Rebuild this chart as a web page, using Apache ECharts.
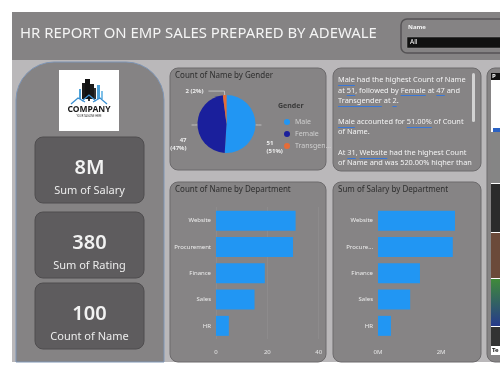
<!DOCTYPE html>
<html>
<head>
<meta charset="utf-8">
<script src="https://cdn.jsdelivr.net/npm/echarts@6/dist/echarts.min.js"></script>
<style>
  html, body { margin: 0; padding: 0; background: #ffffff; }
  #main { width: 500px; height: 375px; }
</style>
</head>
<body>
<div id="main"></div>
<script>
// data
const departments = ['Website', 'Procurement', 'Finance', 'Sales', 'HR']
const deptCount = [31, 30, 19, 15, 5]
const deptSalary = [2440000, 2370000, 1330000, 1020000, 410000]
const genders = ['Male', 'Female', 'Transgender']
const genderCount = [51, 47, 2]
const kpiValues = ['8M', '380', '100']
const kpiLabels = ['Sum of Salary', 'Sum of Rating', 'Count of Name']
const reportTitle = 'HR REPORT ON EMP SALES PREPARED BY ADEWALE'
const narrative = [
  { text: 'Male had the highest Count of Name', u: ['Male'] },
  { text: 'at 51, followed by Female at 47 and', u: ['51', 'Female', '47'] },
  { text: 'Transgender at 2.', u: ['Transgender', '2'] },
  { text: '', u: [] },
  { text: 'Male accounted for 51.00% of Count', u: ['Male', '51.00%'] },
  { text: 'of Name.', u: [] },
  { text: '', u: [] },
  { text: 'At 31, Website had the highest Count', u: ['31', 'Website'] },
  { text: 'of Name and was 520.00% hiqher than', u: [] }
]

const FONT = '"Noto Sans", "Open Sans", sans-serif'
const genderColors = ['#2196f3', '#1a1f9c', '#e66c37']
const barColor = '#2196f3'
const panelFill = '#868485'
const panelStroke = '#6c6a6c'

const ctx = document.createElement('canvas').getContext('2d')
const measure = (str, size, weight) => {
  ctx.font = (weight || 'normal') + ' ' + size + 'px ' + FONT
  return ctx.measureText(str).width
}

const chart = echarts.init(document.getElementById('main'))

const els = []
const rect = (x, y, w, h, fill, extra) => els.push({
  type: 'rect', shape: { x, y, width: w, height: h, r: (extra && extra.r) || 0 },
  style: { fill, stroke: (extra && extra.stroke) || null, lineWidth: (extra && extra.lw) || 1 }
})
const text = (x, y, str, size, fill, opts) => els.push({
  type: 'text', x, y,
  style: {
    text: str, fill, font: ((opts && opts.weight) || 'normal') + ' ' + size + 'px ' + FONT,
    align: (opts && opts.align) || 'left', verticalAlign: 'middle'
  }
})

// page background + header
rect(12, 12, 488, 350, '#bab8ba')
rect(12, 12, 488, 48, '#858384')
const titleSize = 16 * 357 / measure(reportTitle, 16)
text(20, 34, reportTitle, titleSize, '#f4f4f4')

// slicer
rect(401, 19, 110, 34, '#858384', { r: 6, stroke: '#555355', lw: 1.5 })
text(408, 27, 'Name', 6, '#f4f4f4', { weight: 'bold' })
rect(407, 37, 100, 11, '#111111', { stroke: '#9a9a9a', lw: 0.5 })
text(410, 42.5, 'All', 6.5, '#ffffff')

// left panel
els.push({
  type: 'rect', shape: { x: 16, y: 62, width: 148, height: 300, r: [38, 38, 0, 0] },
  style: { fill: '#858384', stroke: '#7e95b5', lineWidth: 1 }
})

// logo
rect(59, 70, 60, 61, '#ffffff')
rect(79, 89, 2, 10, '#4fa3d9')
rect(82, 83, 3, 16, '#1a1a1a')
rect(85, 79, 5, 20, '#111111')
rect(90, 84, 4, 15, '#1a1a1a')
rect(94, 88, 2, 11, '#333333')
rect(97, 85, 3, 14, '#4fa3d9')
rect(101, 91, 2, 8, '#7fc0e8')
;[[[71, 104], [78, 98], [85, 102]], [[82, 101], [89, 95], [96, 101]], [[93, 102], [100, 98], [107, 104]]]
  .forEach(pts => els.push({ type: 'polyline', shape: { points: pts }, style: { stroke: '#3b8fd0', lineWidth: 1.3, fill: null } }))
rect(88, 99, 2, 2, '#333333')
text(89, 110, 'COMPANY', 8.5, '#1a1a1a', { weight: 'bold', align: 'center' })
text(89, 116, 'YOUR TAGLINE HERE', 2.6, '#333333', { align: 'center' })

// kpi cards
const cardTops = [137, 212, 283]
kpiValues.forEach((v, i) => {
  const y = cardTops[i]
  rect(35, y, 109, 66, '#5e5c5e', { r: 8, stroke: '#4f4d4f', lw: 1 })
  text(89.5, y + 31, v, 20, '#f2f2f2', { weight: '600', align: 'center' })
  text(89.5, y + 54, kpiLabels[i], 11, '#ececec', { align: 'center' })
})

// visual panels
const panels = [[170, 68, 156, 102], [333, 68, 148, 103], [170, 182, 156, 180], [333, 182, 148, 180]]
panels.forEach(p => rect(p[0], p[1], p[2], p[3], panelFill, { r: 8, stroke: panelStroke, lw: 1 }))
text(175, 76, 'Count of Name by Gender', 8, '#2e2e2e')
text(175, 189.5, 'Count of Name by Department', 8, '#2e2e2e')
text(338, 189.5, 'Sum of Salary by Department', 8, '#2e2e2e')
text(278, 106, 'Gender', 7, '#3a3a3a', { weight: 'bold' })

// narrative text with underlined values
const bodySize = 8 * 128 / measure(narrative[0].text, 8)
narrative.forEach((ln, i) => {
  const y = 80 + i * 10.4
  if (!ln.text) return
  text(338, y, ln.text, bodySize, '#f3f3f3')
  const uy = Math.round(y + 5) + 0.5
  let from = 0
  ln.u.forEach(w => {
    const idx = ln.text.indexOf(w, from)
    if (idx < 0) return
    from = idx + w.length
    const x0 = 338 + measure(ln.text.slice(0, idx), bodySize)
    const x1 = x0 + measure(w, bodySize)
    els.push({ type: 'line', shape: { x1: x0, y1: uy, x2: x1, y2: uy }, style: { stroke: '#3a78d8', lineWidth: 1 } })
  })
})
rect(472, 73, 3, 49, '#d2d2d2', { r: 1.5 })

// right image panel
rect(487, 68, 30, 294, panelFill, { r: 8, stroke: panelStroke, lw: 1 })
rect(491, 73, 12, 282, '#ffffff')
rect(491, 73, 9, 7, '#111111')
text(492, 76.5, 'P', 6, '#ffffff', { weight: 'bold' })
rect(493, 128, 9, 4, '#2a62c4')
rect(491, 132, 12, 51, '#858585')
rect(491, 184, 12, 48, '#2b2b2b')
rect(491, 233, 12, 45, '#6b4a3a')
els.push({
  type: 'rect', shape: { x: 491, y: 279, width: 12, height: 47 },
  style: { fill: new echarts.graphic.LinearGradient(0, 0, 0, 1, [{ offset: 0, color: '#3f8a3a' }, { offset: 1, color: '#263a8c' }]) }
})
rect(491, 327, 12, 19, '#333333')
text(492, 350, 'Te', 6, '#111111', { weight: 'bold' })

const labelDy = [22, 19, 0]
const labelLen = [3, 3, 4]
const labelLen2 = [3, 3, 16]

const option = {
  animation: false,
  graphic: { elements: els },
  legend: {
    orient: 'vertical', left: 279, top: 113.5,
    icon: 'circle', itemWidth: 6, itemHeight: 6, itemGap: 5,
    data: genders,
    textStyle: { color: '#cfcfcf', fontSize: 7, fontFamily: FONT, width: 38, overflow: 'truncate', ellipsis: '...' }
  },
  grid: [
    { left: 216, top: 207.5, width: 102.7, height: 131.5 },
    { left: 378, top: 207.5, width: 91.5, height: 131.5 }
  ],
  xAxis: [
    {
      gridIndex: 0, type: 'value', min: 0, max: 40, interval: 20,
      axisLine: { show: false }, axisTick: { show: false },
      axisLabel: { color: '#e6e6e6', fontSize: 6, margin: 10, fontFamily: FONT },
      splitLine: { lineStyle: { color: 'rgba(255,255,255,0.12)', type: 'dotted' } }
    },
    {
      gridIndex: 1, type: 'value', min: 0, max: 2900000, interval: 2000000,
      axisLine: { show: false }, axisTick: { show: false },
      axisLabel: { color: '#e6e6e6', fontSize: 6, margin: 10, fontFamily: FONT, showMaxLabel: false, formatter: v => (v / 1e6) + 'M' },
      splitLine: { show: false }
    }
  ],
  yAxis: [
    {
      gridIndex: 0, type: 'category', data: departments, inverse: true,
      axisLine: { show: false }, axisTick: { show: false },
      axisLabel: { color: '#ececec', fontSize: 6, margin: 5, fontFamily: FONT }
    },
    {
      gridIndex: 1, type: 'category', data: departments, inverse: true,
      axisLine: { show: false }, axisTick: { show: false },
      axisLabel: { color: '#ececec', fontSize: 6, margin: 5, fontFamily: FONT, width: 31, overflow: 'truncate', ellipsis: '...' }
    }
  ],
  series: [
    {
      type: 'pie', center: [226.5, 124], radius: 29, startAngle: 90,
      data: genders.map((g, i) => ({
        name: g, value: genderCount[i],
        itemStyle: { color: genderColors[i] },
        labelLine: { length: labelLen[i], length2: labelLen2[i] },
        label: { formatter: i === 2 ? '{c} ({d}%)' : '{c}\n({d}%)' }
      })),
      label: { color: '#eeeeee', fontSize: 6, lineHeight: 8, fontWeight: 'bold', fontFamily: FONT },
      labelLine: { lineStyle: { color: '#cccccc', width: 0.8 } },
      labelLayout: p => ({ dy: labelDy[p.dataIndex] }),
      emphasis: { disabled: true }
    },
    {
      type: 'bar', xAxisIndex: 0, yAxisIndex: 0, data: deptCount,
      itemStyle: { color: barColor }, barCategoryGap: '24%'
    },
    {
      type: 'bar', xAxisIndex: 1, yAxisIndex: 1, data: deptSalary,
      itemStyle: { color: barColor }, barCategoryGap: '24%'
    }
  ]
}

chart.setOption(option)
</script>
</body>
</html>
